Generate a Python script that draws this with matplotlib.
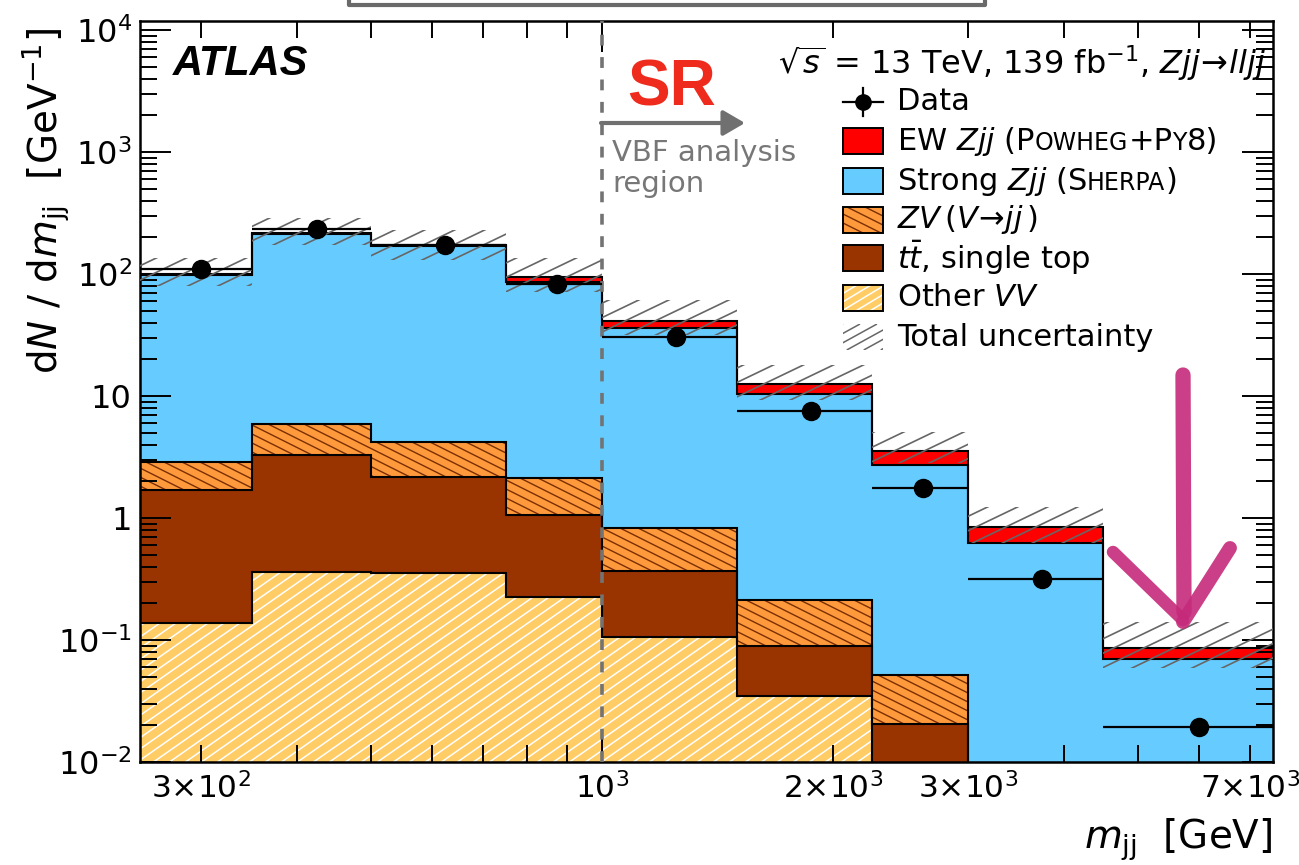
import numpy as np
import matplotlib
matplotlib.use("Agg")
import matplotlib.pyplot as plt
from matplotlib.ticker import FixedLocator, FuncFormatter, NullFormatter
from matplotlib.offsetbox import TextArea, HPacker, AnnotationBbox
from matplotlib.patches import Rectangle
from matplotlib.lines import Line2D
from matplotlib.collections import LineCollection

plt.rcParams['font.family'] = ['DejaVu Sans']
plt.rcParams['mathtext.fontset'] = 'dejavusans'

# m_jj binning [GeV]
edges = [250, 350, 500, 750, 1000, 1500, 2250, 3000, 4500, 7500]

# stacked contributions, dN/dm_jj [1/GeV], bottom -> top
other_vv = [0.138, 0.36, 0.354, 0.225, 0.106, 0.035, 0.006, 0.002, 0.0005]
ttbar = [1.56, 2.92, 1.82, 0.835, 0.262, 0.054, 0.0145, 0.003, 0.001]
zv = [1.18, 2.62, 2.03, 1.07, 0.462, 0.124, 0.031, 0.004, 0.002]
strong_zjj = [96.0, 207.0, 166.0, 83.9, 35.3, 10.19, 2.67, 0.611, 0.0665]
ew_zjj = [1.0, 4.0, 3.0, 8.5, 5.1, 2.1, 0.82, 0.22, 0.016]

data = [110, 234, 172, 83, 30.5, 7.5, 1.76, 0.316, 0.0194]

# total uncertainty band edges
unc_lo = [80, 173, 130, 71, 31.6, 9.3, 2.82, 0.62, 0.059]
unc_hi = [135, 288, 230, 135, 61, 17.9, 5.07, 1.23, 0.141]

xtick_labels = {300: r'$3{\times}10^{2}$', 1000: r'$10^{3}$', 2000: r'$2{\times}10^{3}$',
                3000: r'$3{\times}10^{3}$', 7000: r'$7{\times}10^{3}$'}
ytick_labels = {1e-2: r'$10^{-2}$', 1e-1: r'$10^{-1}$', 1: '1', 10: '10',
                1e2: r'$10^{2}$', 1e3: r'$10^{3}$', 1e4: r'$10^{4}$'}

c_strong = '#66CCFF'
c_ew = '#FF0000'
c_zv = '#FF9A3C'
c_zv_hatch = '#7A2E05'
c_tt = '#993300'
c_vv = '#FFCC66'
c_unc = '#666666'

# hatch styles: (spacing px, slope, colour, width)
h_zv = (18, -0.5, c_zv_hatch, 1.0)
h_vv = (16, 0.7, 'white', 1.1)
h_unc = (30, 0.48, c_unc, 1.2)

W, H = 1299, 865


def fx(px):
    return px / W


def fy(py):
    return 1 - py / H


def hatch(target, patch, x_lo, x_hi, y_lo, y_hi, style, z):
    # parallel lines over a pixel box, clipped to the patch (ROOT-like slanted hatch)
    spacing, slope, color, lw = style
    h = y_hi - y_lo
    run = h / abs(slope)
    segs = []
    for x0 in np.arange(x_lo - run, x_hi + run, spacing):
        x1 = x0 + run if slope > 0 else x0 - run
        segs.append([(fx(x0), fy(y_hi)), (fx(x1), fy(y_lo))])
    lc = LineCollection(segs, transform=fig.transFigure, colors=color, linewidths=lw, zorder=z)
    lc.set_clip_path(patch)
    if target is fig:
        fig.add_artist(lc)
    else:
        target.add_collection(lc, autolim=False)


fig = plt.figure(figsize=(12.99, 8.65), dpi=100)
ax = fig.add_axes([fx(140), fy(762), (1273 - 140) / W, (762 - 21) / H])
ax.set_xscale('log')
ax.set_yscale('log')
ax.set_xlim(250, 7500)
ax.set_ylim(0.01, 10 ** (4 + 9 / 122))

edges_a = np.array(edges, dtype=float)
components = [
    (other_vv, c_vv, h_vv),
    (ttbar, c_tt, None),
    (zv, c_zv, h_zv),
    (strong_zjj, c_strong, None),
    (ew_zjj, c_ew, None),
]

cum = np.full(len(data), 1e-5)
for vals, color, hst in components:
    top = cum + np.array(vals)
    p = ax.stairs(top, edges_a, baseline=cum, fill=True, facecolor=color,
                  edgecolor=color, lw=0, zorder=1)
    if hst:
        hatch(ax, p, 140, 1273, 21, 762, hst, 1.5)
    ax.stairs(top, edges_a, baseline=None, color='black', lw=1.5, zorder=2)
    cum = top

band = ax.stairs(unc_hi, edges_a, baseline=unc_lo, fill=True, facecolor='none',
                 edgecolor='none', lw=0, zorder=3)
hatch(ax, band, 140, 1273, 21, 762, h_unc, 3)

centers = 0.5 * (edges_a[1:] + edges_a[:-1])
halfw = 0.5 * (edges_a[1:] - edges_a[:-1])
ax.errorbar(centers, data, xerr=halfw, fmt='o', color='black', ms=13,
            elinewidth=1.6, capsize=0, zorder=6)

ax.axvline(1000, color='#737373', lw=2.6, ls=(0, (3.0, 3.2)), zorder=5)

# ticks, ROOT style
for sp in ax.spines.values():
    sp.set_linewidth(1.8)
xminor = [v * 10 ** e for e in (2, 3) for v in range(2, 10)]
xminor = [v for v in xminor if 250 <= v <= 7500 and v != 1000]
ax.xaxis.set_major_locator(FixedLocator([1000]))
ax.xaxis.set_minor_locator(FixedLocator(xminor))
ax.xaxis.set_major_formatter(FuncFormatter(lambda v, p: xtick_labels.get(int(round(v)), '')))
ax.xaxis.set_minor_formatter(FuncFormatter(lambda v, p: xtick_labels.get(int(round(v)), '')))
ymajor = [10.0 ** e for e in range(-2, 5)]
yminor = [v * 10.0 ** e for e in range(-2, 5) for v in range(2, 10)]
ax.yaxis.set_major_locator(FixedLocator(ymajor))
ax.yaxis.set_minor_locator(FixedLocator(yminor))
ax.yaxis.set_major_formatter(FuncFormatter(
    lambda v, p: ytick_labels.get(min(ytick_labels, key=lambda k: abs(np.log10(k) - np.log10(v))), '')))
ax.yaxis.set_minor_formatter(NullFormatter())
ax.tick_params(which='both', direction='in', top=True, right=True, width=1.4,
               labelsize=23)
ax.tick_params(axis='x', which='both', labelsize=22.5)
ax.tick_params(which='major', length=22)
ax.tick_params(which='minor', length=12)
ax.tick_params(axis='x', which='both', pad=7)
ax.tick_params(axis='y', which='both', pad=6)

# axis titles
fig.text(fx(46), fy(28), r'd$N$ / d$m_{\mathrm{jj}}$  [GeV$^{-1}$]', rotation=90,
         ha='center', va='top', fontsize=28)
fig.text(fx(1272), fy(840), r'$m_{\mathrm{jj}}$  [GeV]', ha='right', va='center', fontsize=28)

# labels
fig.text(fx(173), fy(75), 'ATLAS', fontsize=30, fontweight='bold', fontstyle='italic',
         family=['Liberation Sans', 'DejaVu Sans'], va='baseline')
fig.text(fx(1266), fy(74), r'$\sqrt{s}$ = 13 TeV, 139 fb$^{-1}$, $Zjj\!\rightarrow\! lljj$',
         ha='right', va='baseline', fontsize=23)
fig.text(fx(627), fy(106), 'SR', fontsize=46, fontweight='bold', color='#EE2B1C',
         family=['Liberation Sans', 'DejaVu Sans'], va='baseline')
ax.annotate('', xy=(fx(745), fy(123)), xytext=(fx(601), fy(123)), xycoords='figure fraction',
            arrowprops=dict(arrowstyle='-|>,head_length=0.6,head_width=0.35', color='#707070',
                            lw=3, mutation_scale=22, shrinkA=0, shrinkB=0))
fig.text(fx(612), fy(161), 'VBF analysis', fontsize=21, color='#777777', va='baseline')
fig.text(fx(612), fy(192), 'region', fontsize=21, color='#777777', va='baseline')

# legend, drawn by hand
leg_y = [102, 141, 181, 220, 258, 298, 337]
bx0, bx1, bh = 843, 883, 26
fs, fsc = 22, 17


def text_row(py, pieces):
    areas = [TextArea(s, textprops=dict(fontsize=f)) for s, f in pieces]
    box = HPacker(children=areas, align='baseline', pad=0, sep=0)
    fig.add_artist(AnnotationBbox(box, (fx(897), fy(py)), xycoords='figure fraction',
                                  box_alignment=(0, 0.5), frameon=False, pad=0))


def legend_box(py, color, hst=None, edge=True):
    r0 = Rectangle((fx(bx0), fy(py + bh / 2)), (bx1 - bx0) / W, bh / H, transform=fig.transFigure,
                   facecolor=color, edgecolor='none', lw=0)
    fig.add_artist(r0)
    if hst:
        hatch(fig, r0, bx0, bx1, py - bh / 2, py + bh / 2, hst, 3)
    if edge:
        fig.add_artist(Rectangle((fx(bx0), fy(py + bh / 2)), (bx1 - bx0) / W, bh / H,
                                 transform=fig.transFigure, facecolor='none',
                                 edgecolor='black', lw=1.4, zorder=4))


y0 = leg_y[0]
fig.add_artist(Line2D([fx(bx0), fx(bx1)], [fy(y0), fy(y0)], color='black', lw=1.6))
fig.add_artist(Line2D([fx(863), fx(863)], [fy(y0 - 14), fy(y0 + 14)], color='black', lw=1.6))
fig.add_artist(Line2D([fx(863)], [fy(y0)], marker='o', color='black', ms=11))
text_row(y0, [('Data', fs)])

legend_box(leg_y[1], c_ew)
text_row(leg_y[1], [('EW $Zjj$ (P', fs), ('OWHEG', fsc), ('+P', fs), ('Y', fsc), ('8)', fs)])
legend_box(leg_y[2], c_strong)
text_row(leg_y[2], [('Strong $Zjj$ (S', fs), ('HERPA', fsc), (')', fs)])
legend_box(leg_y[3], c_zv, h_zv)
text_row(leg_y[3], [(r'$ZV\,(V\!\rightarrow\! jj\,)$', fs)])
legend_box(leg_y[4], c_tt)
text_row(leg_y[4], [(r'$t\bar{t}$, single top', fs)])
legend_box(leg_y[5], c_vv, (14, 0.6, 'white', 1.1))
text_row(leg_y[5], [('Other $VV$', fs)])
legend_box(leg_y[6], 'none', (17, 0.55, c_unc, 1.1), edge=False)
text_row(leg_y[6], [('Total uncertainty', fs)])

# hand drawn pink arrow
pink = '#C52A7A'
for (xa, ya), (xb, yb), lw in [((1183, 375), (1184, 612), 11),
                               ((1113, 552), (1183, 620), 9),
                               ((1230, 548), (1183, 622), 10)]:
    fig.add_artist(Line2D([fx(xa), fx(xb)], [fy(ya), fy(yb)], color=pink, lw=lw,
                          solid_capstyle='round', alpha=0.9))

# frame piece at the top
fig.add_artist(Line2D([fx(349), fx(349), fx(985), fx(985)], [fy(-2), fy(5), fy(5), fy(-2)],
                      color='#6A6A6A', lw=3))

fig.savefig('out.png', dpi=100)
